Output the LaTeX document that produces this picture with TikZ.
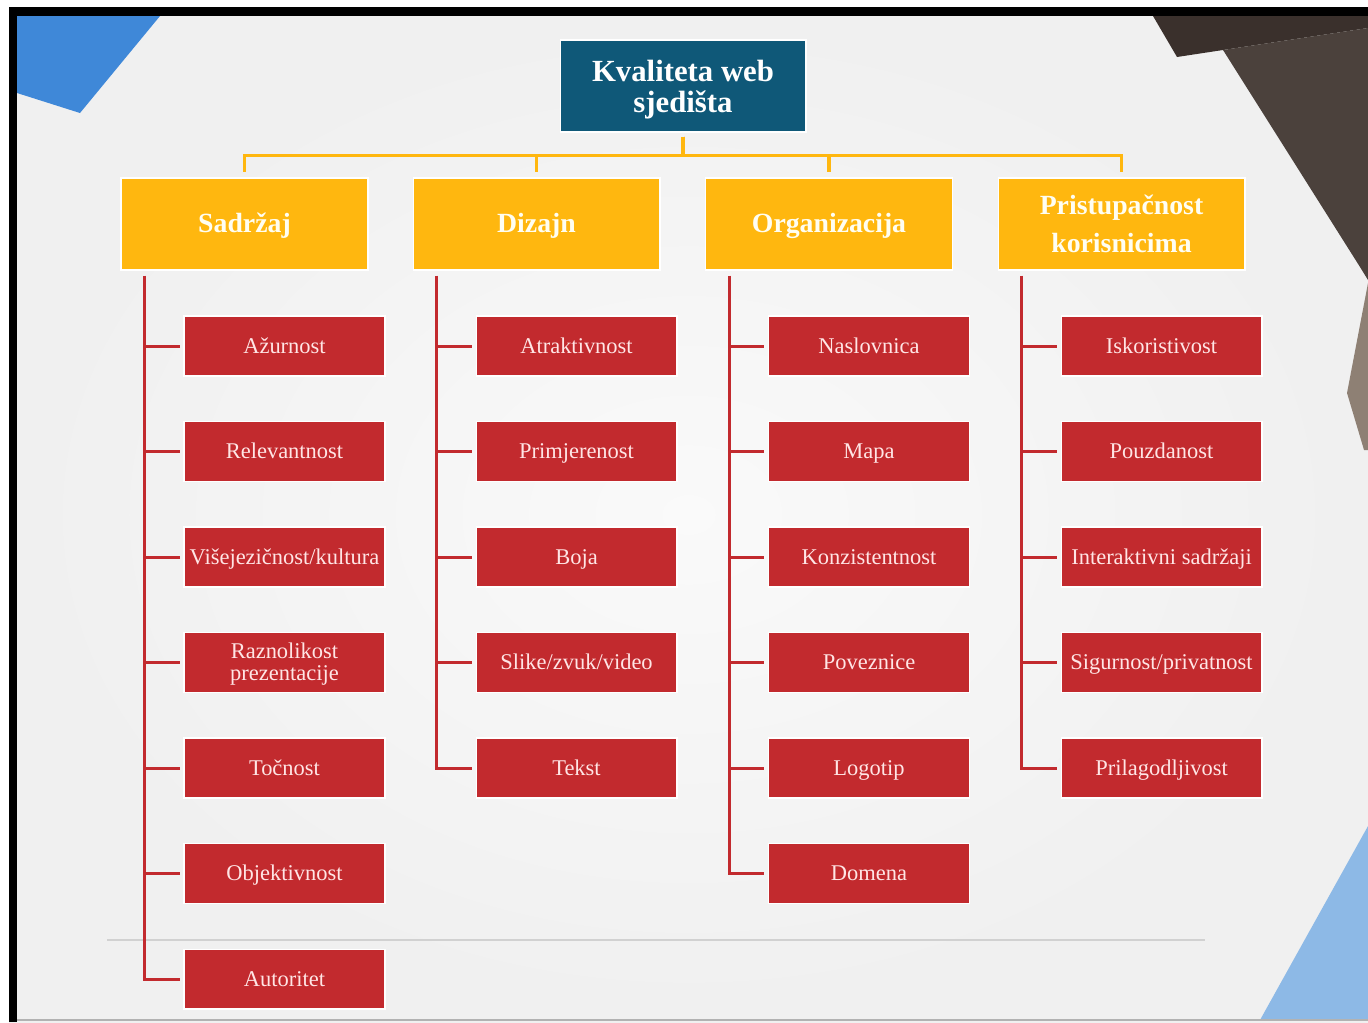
\documentclass[tikz,border=0pt]{standalone}
\usepackage{fontspec}
\setmainfont{Liberation Serif}
\usepackage{tikz}
\usetikzlibrary{positioning,calc}
\definecolor{plava}{HTML}{0F5878}
\definecolor{zuta}{HTML}{FFB70F}
\definecolor{crvena}{HTML}{C22A2E}
\definecolor{svijetlaplava}{HTML}{8DB9E6}
\definecolor{tamnaplava}{HTML}{3F88D8}
\definecolor{smeda}{HTML}{3A302C}
\definecolor{smedasvijetla}{HTML}{4B413C}
\definecolor{bez}{HTML}{8E8074}
\def \sirinaKategorije {4.94cm}
\def \sirinaStavke {4.02cm}
\def \red {105.5}
\tikzset{
  korijen/.style={fill=plava,draw=white,line width=0.6pt,minimum width=4.92cm,minimum height=1.84cm,
    text=white,align=center,inner sep=1pt,
    font=\fontsize{17.5}{17.8}\bfseries\selectfont},
  kategorija/.style={fill=zuta,draw=white,line width=0.6pt,minimum width=\sirinaKategorije,minimum height=1.84cm,
    text=white!95!yellow,align=center,inner sep=1pt,text height=0.98em,text depth=0.04em,
    font=\fontsize{15.8}{22}\bfseries\selectfont},
  stavka/.style={fill=crvena,draw=white,line width=0.6pt,minimum width=\sirinaStavke,minimum height=1.2cm,
    text=white!90!red,align=center,inner sep=1pt,text height=0.86em,text depth=0.04em,
    font=\fontsize{12.8}{12.5}\selectfont},
  dvaReda/.style={text height=,text depth=},
  zutaLinija/.style={draw=zuta,line width=2.2pt,shorten <=2.3pt,shorten >=3pt},
  crvenaLinija/.style={draw=crvena,line width=1.7pt,shorten >=2pt}
}
\begin{document}
\begin{tikzpicture}[x=0.02cm,y=-0.02cm]
  \useasboundingbox (0,0) rectangle (1368,1022);
  % pozadina
  \fill[white] (0,0) rectangle (1368,1022);
  \shade[inner color=white!98!black,outer color=black!6] (9,7) rectangle (1368,1022);
  \fill[tamnaplava] (17,16) -- (160,16) -- (80,113) -- (17,93) -- cycle;
  \fill[smeda] (1153,16) -- (1368,16) -- (1368,28) -- (1223,50) -- (1177,57) -- cycle;
  \fill[smedasvijetla] (1223,50) -- (1368,28) -- (1368,280) -- (1360,267) -- cycle;
  \fill[bez] (1368,283) -- (1347,393) -- (1364,450) -- (1368,450) -- cycle;
  \fill[svijetlaplava] (1260,1020) -- (1368,1020) -- (1368,826) -- cycle;
  \draw[black!18,line width=0.8pt] (107,940) -- (1205,940);
  \draw[black!30,line width=1pt] (9,1020) -- (1368,1020);
  \fill[black] (9,7) rectangle (1368,16);
  \fill[black] (9,7) rectangle (17,1022);

  \draw (683,86) node[korijen] (kvaliteta) {\rule{0pt}{0.93em}Kvaliteta web\\sjedišta};

  % Sadrzaj
  \draw (244.5,224) node[kategorija] (sadrzaj) {Sadržaj}
  (284.5,346) node[stavka] (sadrzaj-1) {Ažurnost}
  ++(0,\red) node[stavka] (sadrzaj-2) {Relevantnost}
  ++(0,\red) node[stavka] (sadrzaj-3) {Višejezičnost/kultura}
  ++(0,\red) node[stavka,dvaReda] (sadrzaj-4) {\rule{0pt}{0.85em}Raznolikost\\prezentacije}
  ++(0,\red) node[stavka] (sadrzaj-5) {Točnost}
  ++(0,\red) node[stavka] (sadrzaj-6) {Objektivnost}
  ++(0,\red) node[stavka] (sadrzaj-7) {Autoritet}
  ;
  % Dizajn
  \draw (536.5,224) node[kategorija] (dizajn) {Dizajn}
  (576.5,346) node[stavka] (dizajn-1) {Atraktivnost}
  ++(0,\red) node[stavka] (dizajn-2) {Primjerenost}
  ++(0,\red) node[stavka] (dizajn-3) {Boja}
  ++(0,\red) node[stavka] (dizajn-4) {Slike/zvuk/video}
  ++(0,\red) node[stavka] (dizajn-5) {Tekst}
  ;
  % Organizacija
  \draw (829,224) node[kategorija] (organizacija) {Organizacija}
  (869,346) node[stavka] (organizacija-1) {Naslovnica}
  ++(0,\red) node[stavka] (organizacija-2) {Mapa}
  ++(0,\red) node[stavka] (organizacija-3) {Konzistentnost}
  ++(0,\red) node[stavka] (organizacija-4) {Poveznice}
  ++(0,\red) node[stavka] (organizacija-5) {Logotip}
  ++(0,\red) node[stavka] (organizacija-6) {Domena}
  ;
  % Pristupacnost
  \draw (1121.5,224) node[kategorija,dvaReda] (pristupacnost) {Pristupačnost\\korisnicima}
  (1161.5,346) node[stavka] (pristupacnost-1) {Iskoristivost}
  ++(0,\red) node[stavka] (pristupacnost-2) {Pouzdanost}
  ++(0,\red) node[stavka] (pristupacnost-3) {Interaktivni sadržaji}
  ++(0,\red) node[stavka] (pristupacnost-4) {Sigurnost/privatnost}
  ++(0,\red) node[stavka] (pristupacnost-5) {Prilagodljivost}
  ;

  % veze
  \foreach \k in {sadrzaj,dizajn,organizacija,pristupacnost}
    \draw[zutaLinija] (kvaliteta.south) -- ++(0,23) -| (\k.north);

  \foreach \k/\n in {sadrzaj/7,dizajn/5,organizacija/6,pristupacnost/5}{
    \coordinate (\k-os) at ($(\k.south west)+(24,5)$);
    \draw[crvenaLinija] (\k-os) |- (\k-\n.west);
    \foreach \i in {1,...,\n}
      \draw[crvenaLinija] (\k-os |- \k-\i.west) -- (\k-\i.west);
  }
\end{tikzpicture}
\end{document}
